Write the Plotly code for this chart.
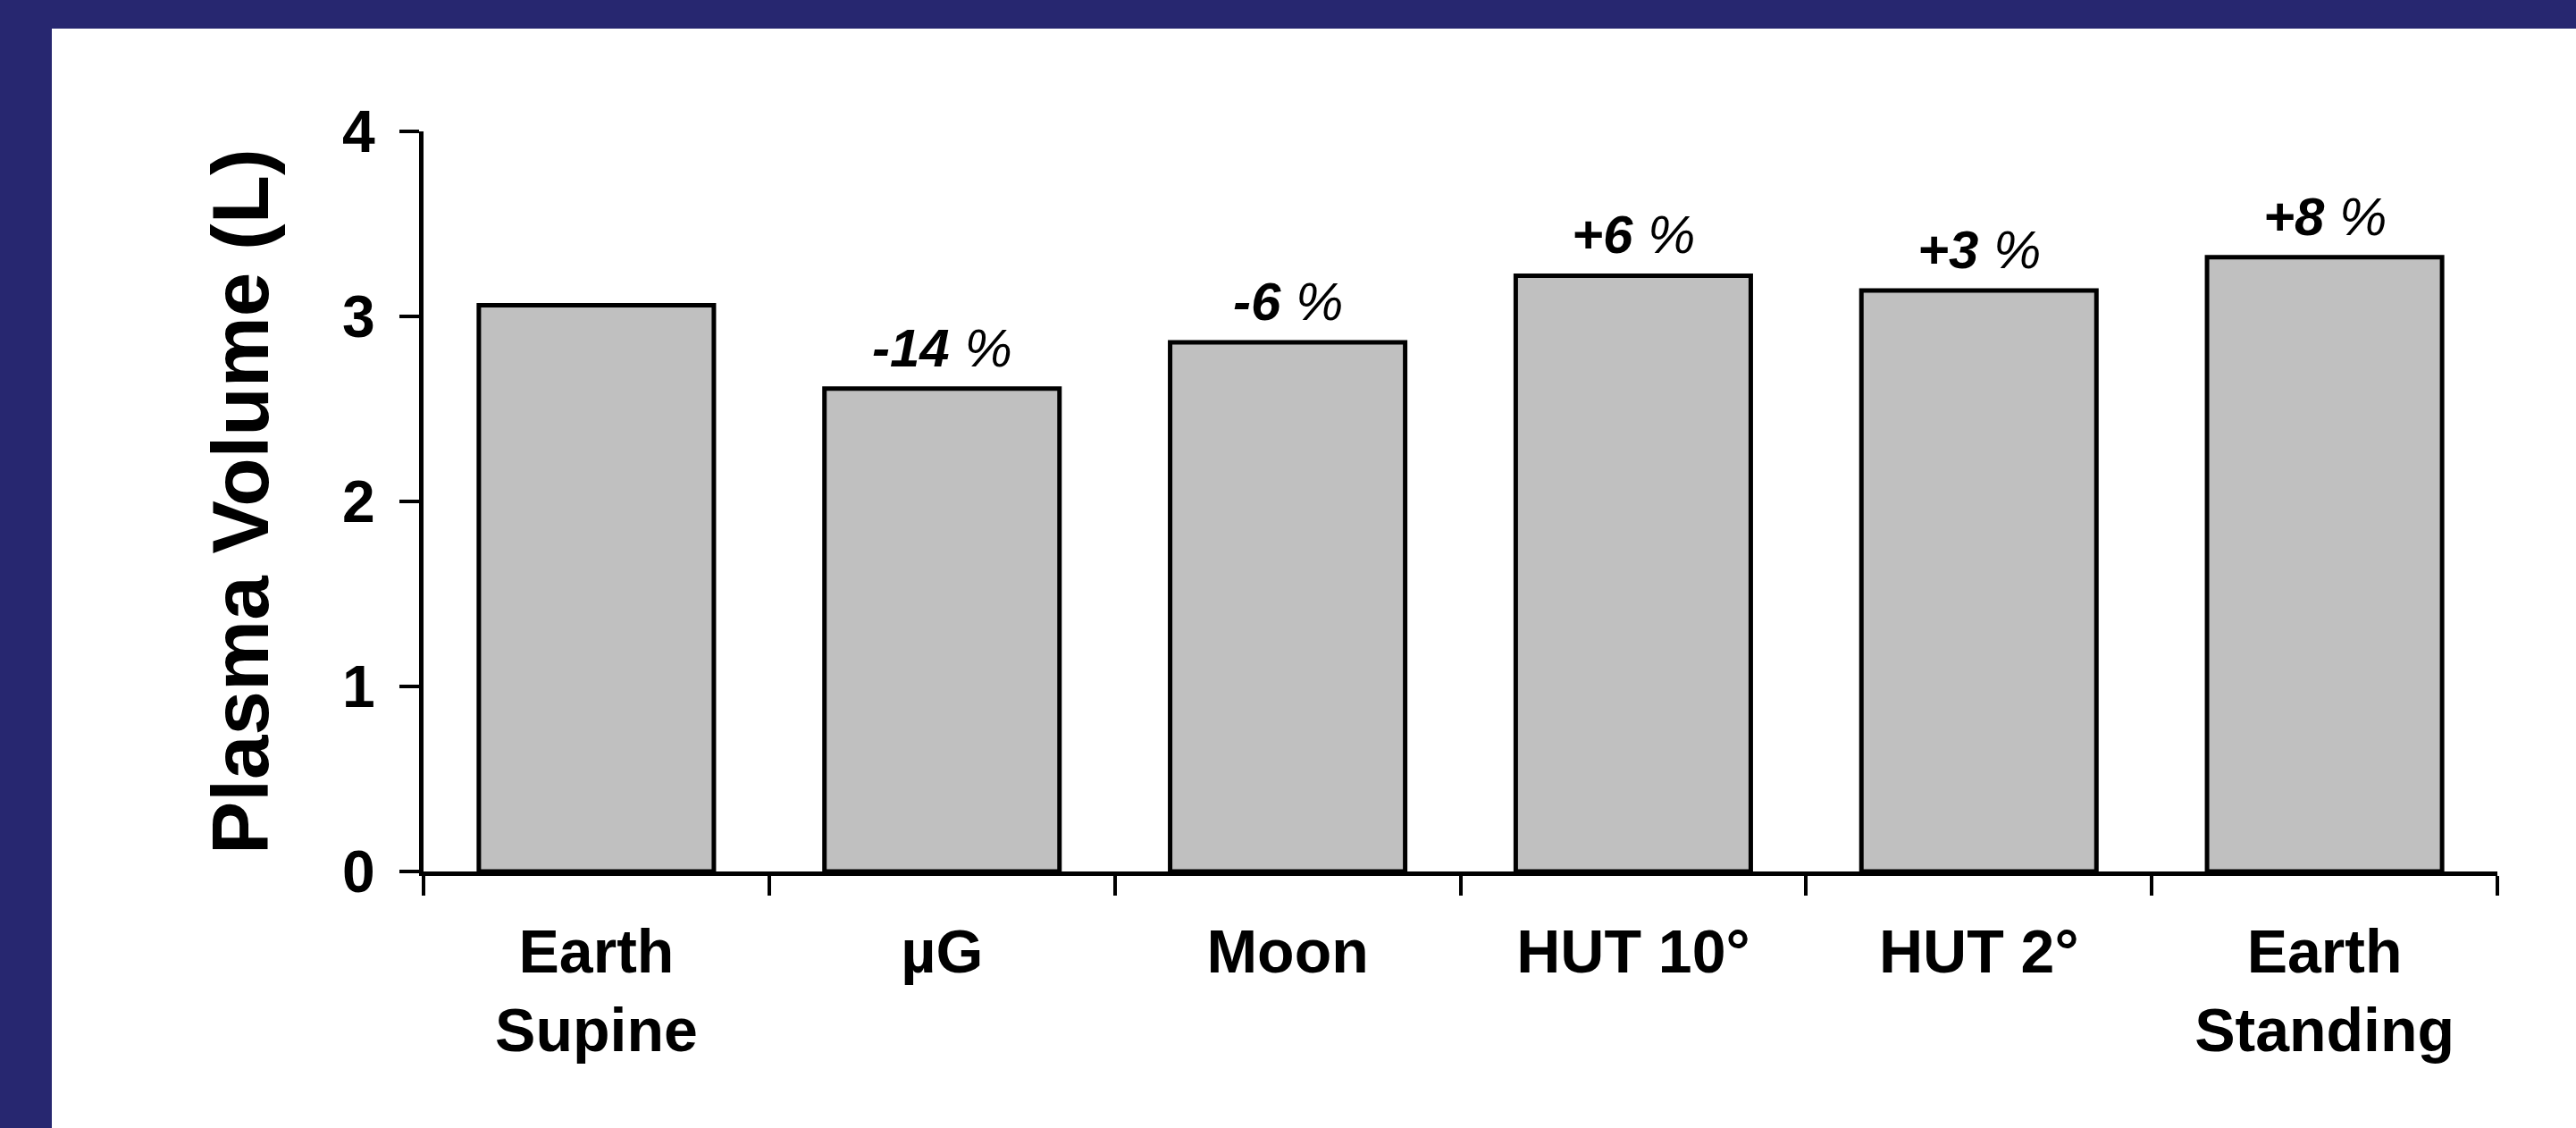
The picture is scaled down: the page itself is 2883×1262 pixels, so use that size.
import plotly.graph_objects as go

categories = ["Earth<br>Supine", "µG", "Moon", "HUT 10°", "HUT 2°", "Earth<br>Standing"]
plasma_volume = [3.06, 2.61, 2.86, 3.22, 3.14, 3.32]
change_labels = ["", "-14", "-6", "+6", "+3", "+8"]
y_ticks = [0, 1, 2, 3, 4]

FONT = "Liberation Sans, Arial, sans-serif"
NAVY = "#272770"

W, H = 2883, 1262
ML, MR, MT, MB = 474, 88, 147, 287

fig = go.Figure()
fig.add_trace(go.Bar(
    x=categories,
    y=plasma_volume,
    marker=dict(color="#C0C0C0", line=dict(color="black", width=5)),
    width=0.68,
))

for cat, val, lab in zip(categories, plasma_volume, change_labels):
    if not lab:
        continue
    fig.add_annotation(
        x=cat, y=val, xref="x", yref="y",
        text="<b><i>%s</i></b><i> %%</i>" % lab,
        showarrow=False, yanchor="bottom", yshift=10,
        font=dict(family=FONT, size=60, color="black"),
    )

# y axis title
fig.add_annotation(
    xref="paper", yref="paper", x=0, y=0.5,
    xshift=-257, textangle=-90, showarrow=False,
    text="Plasma Volume (L)",
    font=dict(family=FONT, size=89, color="black", weight="bold"),
)

fig.update_layout(
    width=W, height=H,
    margin=dict(l=ML, r=MR, t=MT, b=MB),
    paper_bgcolor="white", plot_bgcolor="white",
    showlegend=False,
    font=dict(family=FONT, color="black"),
    xaxis=dict(
        showline=True, linecolor="black", linewidth=5,
        ticks="outside", tickson="boundaries", ticklen=22, tickwidth=4, tickcolor="black",
        tickfont=dict(family=FONT, size=68, color="black", weight="bold"),
        ticklabelstandoff=26,
        showgrid=False, zeroline=False,
    ),
    yaxis=dict(
        range=[0, 4], tickvals=y_ticks,
        showline=True, linecolor="black", linewidth=5,
        ticks="outside", ticklen=22, tickwidth=4, tickcolor="black",
        tickfont=dict(family=FONT, size=66, color="black", weight="bold"),
        ticklabelstandoff=14,
        showgrid=False, zeroline=False,
    ),
)

# navy frame along the top and left edges
plot_h = H - MT - MB
plot_w = W - ML - MR
top_band = 32
left_band = 58
fig.add_shape(type="rect", xref="paper", yref="paper",
              x0=-ML / plot_w, x1=(plot_w + MR) / plot_w,
              y0=(plot_h + MT - top_band) / plot_h, y1=(plot_h + MT) / plot_h,
              fillcolor=NAVY, line_width=0, layer="above")
fig.add_shape(type="rect", xref="paper", yref="paper",
              x0=-ML / plot_w, x1=(-ML + left_band) / plot_w,
              y0=-MB / plot_h, y1=(plot_h + MT) / plot_h,
              fillcolor=NAVY, line_width=0, layer="above")

fig.write_html("out.html", config={"displayModeBar": False},
               post_script="document.body.style.margin='0';")
